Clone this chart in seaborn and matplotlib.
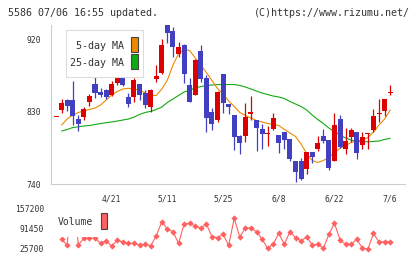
import numpy as np
import pandas as pd
import matplotlib
matplotlib.use("Agg")
import matplotlib.pyplot as plt
from matplotlib.patches import Rectangle
import seaborn as sns

# daily candles, 2020-04-07 .. 2020-07-06 (61 sessions)
opens = [823, 832, 844, 844, 821, 823, 842, 864, 854, 857,
         851, 866, 886, 848, 848, 864, 853, 835, 870, 878,
         940, 930, 902, 913, 863, 851, 905, 872, 829, 819,
         877, 839, 826, 800, 799, 827, 819, 808, 802, 808,
         801, 804, 796, 768, 768, 759, 780, 783, 799, 795,
         769, 821, 783, 798, 805, 789, 802, 807, 827, 831, 853]
highs = [823, 845, 845, 868, 826, 835, 852, 876, 859, 858,
         868, 879, 888, 853, 871, 864, 857, 858, 888, 920,
         942, 935, 916, 914, 872, 895, 913, 875, 834, 855,
         877, 839, 826, 801, 841, 849, 819, 815, 812, 828,
         801, 805, 796, 768, 772, 780, 780, 800, 808, 795,
         828, 826, 810, 809, 805, 804, 803, 833, 846, 846, 863]
lows = [823, 828, 831, 813, 806, 819, 837, 847, 848, 845,
        849, 863, 862, 836, 842, 844, 834, 830, 867, 877,
        915, 898, 898, 865, 842, 850, 867, 805, 807, 817,
        828, 827, 782, 777, 792, 820, 781, 783, 787, 807,
        778, 784, 768, 743, 745, 753, 766, 781, 791, 757,
        769, 785, 777, 792, 771, 783, 784, 805, 817, 824, 850]
closes = [823, 841, 837, 825, 815, 833, 849, 853, 850, 848,
          864, 876, 863, 839, 869, 850, 838, 857, 874, 913,
          928, 910, 910, 877, 842, 894, 870, 822, 815, 854,
          841, 836, 798, 791, 823, 829, 810, 802, 803, 822,
          791, 795, 771, 755, 746, 780, 774, 791, 794, 760,
          813, 786, 793, 807, 779, 798, 803, 824, 828, 846, 854]

nan = np.nan
ma5 = [nan, 813.2, 820.7, 825.6, 828.8, 830.6, 832.5, 834.3, 838.1, 844.3,
       850.5, 854.8, 857.9, 858.8, 857.9, 856.7, 852.9, 849.9, 849.9, 857.9,
       869.1, 887.7, 902.0, 907.0, 905.7, 896.4, 887.7, 878.4, 868.5, 858.5,
       851.7, 843.0, 836.2, 828.8, 825.0, 821.9, 818.8, 817.0, 815.1, 813.9,
       812.6, 807.7, 803.3, 799.0, 789.7, 777.9, 769.2, 766.7, 769.2, 772.9,
       779.1, 784.3, 787.8, 791.5, 793.4, 794.6, 797.7, 804.6, 813.2, 820.7, 831.8]
ma25 = [nan, 805.8, 807.6, 810.1, 811.0, 812.0, 812.6, 813.9, 815.1, 816.1,
        817.0, 818.2, 819.4, 820.7, 823.1, 826.3, 828.8, 830.2, 832.5, 835.6,
        841.2, 845.5, 849.9, 854.2, 856.7, 859.2, 861.0, 862.3, 862.9, 863.5,
        863.5, 863.5, 863.5, 862.3, 860.4, 857.9, 855.4, 852.9, 851.1, 849.2,
        848.0, 846.1, 842.4, 839.3, 836.2, 831.9, 825.6, 820.0, 815.1, 809.5,
        805.2, 800.8, 797.1, 794.6, 792.8, 792.5, 792.5, 792.8, 793.4, 795.3, 796.7]
volume = [nan, 57600, 38900, 250000, 38900, 60900, 60900, 60900, 44400, 53000,
          34600, 55300, 47700, 44400, 44400, 38900, 41200, 35600, 69400, 115400,
          90500, 82600, 44400, 107900, 110200, 101300, 93800, 107900, 66100, 62800,
          74000, 37500, 126600, 64200, 95700, 93800, 82600, 57600, 28000, 41200,
          77300, 41200, 82600, 62800, 52000, 66100, 38900, 41200, 28000, 74000,
          110200, 55300, 41200, 41200, 58600, 28000, 25700, 77300, 47700, 49700, 49700]

date_labels = ["4/21", "5/11", "5/25", "6/8", "6/22", "7/6"]
date_pos = [10, 20, 30, 40, 50, 60]
price_ticks = [740, 830, 920]
vol_ticks = [25700, 91450, 157200]

RED = "#dd0000"
BLUE = "#4040c0"
ORANGE = "#ee8800"
GREEN = "#11aa11"
VOLC = "#ff6060"
AXC = "#cccccc"
TXT = "#333333"

sns.set_style("white")
plt.rcParams["font.family"] = ["DejaVu Sans Mono"]

W, H = 420, 259
fig = plt.figure(figsize=(W / 100, H / 100), dpi=100)


def px(x, y, w=0, h=0):
    # pixel box (top-left origin) -> figure fraction [left, bottom, width, height]
    return [x / W, 1 - (y + h) / H, w / W, h / H]


def box(x, y, w, h, **kw):
    l, b, ww, hh = px(x, y, w, h)
    fig.patches.append(Rectangle((l, b), ww, hh, transform=fig.transFigure, **kw))


ax = fig.add_axes(px(51, 25, 354, 159))
axv = fig.add_axes(px(51, 206, 354, 52))

df = pd.DataFrame({"i": np.arange(len(opens)), "o": opens, "h": highs,
                   "l": lows, "c": closes, "ma5": ma5, "ma25": ma25,
                   "vol": volume})
up = df["c"] >= df["o"]
cols = np.where(up, RED, BLUE)

# moving averages
sns.lineplot(data=df, x="i", y="ma25", ax=ax, color=GREEN, lw=0.8, zorder=2)
sns.lineplot(data=df, x="i", y="ma5", ax=ax, color=ORANGE, lw=0.8, zorder=2)

# candles
ax.vlines(df["i"], df["l"], df["h"], colors=cols, lw=0.9, zorder=3)
body_lo = np.minimum(df["o"], df["c"])
body_h = np.maximum((df["c"] - df["o"]).abs(), 1.5)
ax.bar(df["i"], body_h, bottom=body_lo, width=0.9, color=cols, lw=0, zorder=4)

ax.set_xlim(-0.9, 62.66)
ax.set_ylim(740, 937.4)
ax.set_xlabel("")
ax.set_ylabel("")
for s in ["top", "right"]:
    ax.spines[s].set_visible(False)
for s in ["left", "bottom"]:
    ax.spines[s].set_color(AXC)
    ax.spines[s].set_linewidth(0.8)
ax.set_yticks(price_ticks)
ax.set_yticklabels([str(t) for t in price_ticks])
ax.set_xticks(np.linspace(-0.9, 62.66, 12))
ax.set_xticklabels([])
ax.set_xticks(date_pos, minor=True)
ax.set_xticklabels(date_labels, minor=True)
ax.tick_params(axis="y", direction="inout", length=6.5, width=0.8, color=AXC,
               labelsize=5.8, labelcolor=TXT, pad=4)
ax.tick_params(axis="x", which="major", direction="inout", length=6, width=0.8,
               color=AXC)
ax.tick_params(axis="x", which="minor", length=0, labelsize=5.8,
               labelcolor=TXT, pad=7.5)

# volume
sns.lineplot(data=df, x="i", y="vol", ax=axv, color=VOLC, lw=0.8,
             marker="D", markersize=3.2, markeredgewidth=0, zorder=2)
axv.set_xlim(-0.9, 62.66)
axv.set_ylim(-3900, 167000)
axv.set_xlabel("")
axv.set_ylabel("")
for s in axv.spines.values():
    s.set_visible(False)
axv.set_xticks([])
axv.set_yticks(vol_ticks)
axv.set_yticklabels([str(t) for t in vol_ticks])
axv.tick_params(axis="y", length=0, labelsize=5.8, labelcolor=TXT, pad=5)

# legends
box(66, 30, 77, 47, facecolor="white", edgecolor="#dddddd", lw=0.8, zorder=5)
box(131, 37, 7, 15, facecolor=ORANGE, edgecolor="#444444", lw=0.8, zorder=6)
box(131, 54, 7, 15, facecolor=GREEN, edgecolor="#444444", lw=0.8, zorder=6)
fig.text(124.5 / W, 1 - 46 / H, "5-day MA", ha="right", va="center",
         fontsize=7.2, color=TXT, zorder=7)
fig.text(124.5 / W, 1 - 63 / H, "25-day MA", ha="right", va="center",
         fontsize=7.2, color=TXT, zorder=7)

box(54, 204, 58, 32.5, facecolor="white", edgecolor="none", zorder=5)
box(101, 213, 6, 16, facecolor=VOLC, edgecolor="#444444", lw=0.8, zorder=6)
fig.text(58 / W, 1 - 222 / H, "Volume", ha="left", va="center",
         fontsize=7, color=TXT, zorder=7)

# header
fig.text(8 / W, 1 - 12.5 / H, "5586 07/06 16:55 updated.", ha="left",
         va="center", fontsize=7.2, color=TXT)
fig.text(410 / W, 1 - 12.5 / H, "(C)https://www.rizumu.net/", ha="right",
         va="center", fontsize=7.2, color=TXT)

fig.savefig("out.png", dpi=100)
